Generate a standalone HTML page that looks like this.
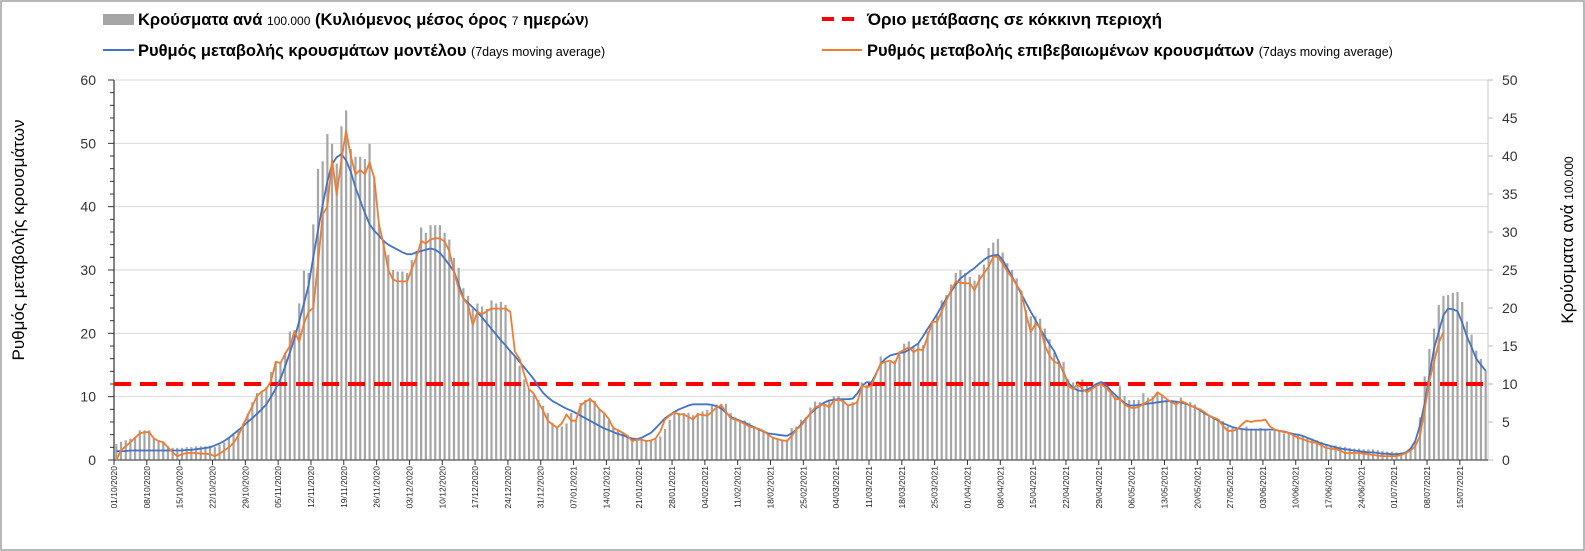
<!DOCTYPE html>
<html><head><meta charset="utf-8"><style>
html,body{margin:0;padding:0;background:#fff;}
svg{display:block;font-family:"Liberation Sans",sans-serif;}
</style></head><body>
<svg id="chart" width="1585" height="551" viewBox="0 0 1585 551" xmlns="http://www.w3.org/2000/svg">
<rect x="1" y="1" width="1583" height="549" fill="#fff" stroke="#a0a0a0" stroke-width="1.5"/>
<g id="grid"></g>
<g id="bars"></g>
<g id="axes"></g>
<g id="lines"></g>
<g font-weight="bold">
  <rect x="103" y="14" width="31" height="11" fill="#a6a6a6"/>
  <text x="138" y="25" font-size="16.5" fill="#000">Κρούσματα ανά <tspan font-size="12" font-weight="normal">100.000</tspan> (Κυλιόμενος μέσος όρος <tspan font-size="12" font-weight="normal">7</tspan> ημερών<tspan font-size="12">)</tspan></text>
  <line x1="103" y1="50" x2="134" y2="50" stroke="#4472c4" stroke-width="2"/>
  <text x="138" y="56" font-size="16.5" fill="#000">Ρυθμός μεταβολής κρουσμάτων μοντέλου <tspan font-size="12.5" font-weight="normal">(7days moving average)</tspan></text>
  <line x1="822" y1="19" x2="862" y2="19" stroke="#ff0000" stroke-width="4" stroke-dasharray="12,8"/>
  <text x="867" y="25" font-size="17" fill="#000">Όριο μετάβασης σε κόκκινη περιοχή</text>
  <line x1="822" y1="50" x2="862" y2="50" stroke="#ed7d31" stroke-width="2"/>
  <text x="867" y="56" font-size="16.5" fill="#000">Ρυθμός μεταβολής επιβεβαιωμένων κρουσμάτων <tspan font-size="12.5" font-weight="normal">(7days moving average)</tspan></text>
</g>
<text transform="translate(24,240) rotate(-90)" text-anchor="middle" font-size="17" fill="#000">Ρυθμός μεταβολής κρουσμάτων</text>
<text transform="translate(1573,240) rotate(-90)" text-anchor="middle" font-size="17" fill="#000">Κρούσματα ανά <tspan font-size="12">100.000</tspan></text>
</svg>
<script>
const leftTicks=[0,10,20,30,40,50,60];
const rightTicks=[0,5,10,15,20,25,30,35,40,45,50];
const dateLabels=["01/10/2020","08/10/2020","15/10/2020","22/10/2020","29/10/2020","05/11/2020","12/11/2020","19/11/2020","26/11/2020","03/12/2020","10/12/2020","17/12/2020","24/12/2020","31/12/2020","07/01/2021","14/01/2021","21/01/2021","28/01/2021","04/02/2021","11/02/2021","18/02/2021","25/02/2021","04/03/2021","11/03/2021","18/03/2021","25/03/2021","01/04/2021","08/04/2021","15/04/2021","22/04/2021","29/04/2021","06/05/2021","13/05/2021","20/05/2021","27/05/2021","03/06/2021","10/06/2021","17/06/2021","24/06/2021","01/07/2021","08/07/2021","15/07/2021"];
const thresholdRight=10;
const cases=[2.1,2.4,2.6,2.8,2.9,3.9,3.9, 3.9,2.8,2.6,2.4,1.8,1.6,1.6, 1.6,1.7,1.7,1.8,1.8,1.8,1.9, 1.7,2.0,2.3,2.9,3.3,3.8,4.8,
6.1,7.6,8.8,9.1,9.6,11.6,12.9, 12.9,14.1,16.9,17.1,20.6,24.9,24.6, 31.0,38.3,39.3,42.9,41.6,39.0,43.9, 46.0,40.9,39.9,39.9,39.6,41.6,37.3,
31.0,28.9,27.0,25.0,24.8,24.8,24.6, 26.3,27.5,30.6,29.9,30.9,30.9,30.9, 29.9,29.0,26.6,25.3,22.6,21.6,19.9, 20.6,20.2,19.9,21.0,20.6,20.8,20.4,
14.4,13.7,12.4,10.6,9.3,8.6,7.9, 7.1,6.2,4.9,4.4,4.4,4.8,6.2, 5.3,7.5,7.9,8.2,7.8,6.6,6.2, 5.2,4.4,3.9,3.6,3.3,2.8,2.6,
2.6,2.6,2.6,2.7,3.1,4.1,5.3, 6.4,6.2,6.2,6.2,5.9,6.2,6.4, 6.6,7.1,7.3,7.4,7.4,6.2,5.6, 5.3,5.2,4.9,4.4,4.2,3.8,3.5,
3.0,2.7,2.6,2.7,4.2,4.4,5.3, 5.6,6.9,7.7,7.6,7.4,7.9,8.4, 8.4,7.9,7.3,7.6,7.8,10.2,9.9, 10.1,10.2,13.6,12.9,12.9,13.1,13.9,
15.3,15.6,14.8,15.3,15.1,16.9,18.2, 19.0,21.0,21.7,23.1,24.6,25.0,24.6, 24.1,23.6,24.4,25.7,27.9,28.6,29.1, 27.3,25.9,25.0,23.9,22.3,19.7,18.9,
18.9,18.6,17.3,15.9,14.1,13.0,12.9, 10.6,10.2,10.4,10.6,9.9,9.3,9.6, 9.9,10.3,9.2,8.4,9.7,8.4,7.9, 7.9,7.9,8.8,8.2,8.4,8.8,8.6,
7.9,7.7,7.6,8.2,7.6,7.6,7.3, 6.8,6.3,5.7,5.6,5.3,5.1,4.4, 4.2,4.0,4.2,4.4,4.0,4.0,4.2, 4.0,3.8,4.0,3.8,3.5,3.5,3.5,
3.3,3.1,2.9,2.8,2.6,2.4,2.1, 1.9,1.9,1.8,1.7,1.6,1.5,1.5, 1.4,1.4,1.4,1.3,1.2,1.1,1.1, 1.0,1.0,1.1,1.3,2.4,5.6,11.0,
14.6,17.3,20.4,21.6,21.7,22.0,22.1, 20.8,18.2,16.5,14.4,13.3,11.8];
const modelRate=[1.4,1.4,1.4,1.5,1.5,1.5,1.5,1.5,1.5,1.5,1.5,1.5,1.5,1.5, 1.5,1.6,1.6,1.7,1.8,1.9,2.0, 2.3,2.6,3.0,3.5,4.1,4.7,5.3,
6.0,6.6,7.3,8.0,8.8,10.0,11.3, 12.8,14.8,17.0,19.2,21.9,24.7,27.6, 32,36.3,40.3,44,46.7,47.8,48.3, 47.3,45.5,43,41,39,37.2,36.2,
35.4,34.6,34.0,33.6,33.2,32.8,32.5, 32.5,32.8,33.0,33.2,33.4,33.2,32.7, 31.8,30.8,29.8,27.7,25.5,24.8,24.1, 23.4,22.5,21.6,20.7,19.8,18.9,18.1,
17.2,16.4,15.5,14.6,13.7,12.8,11.6, 10.6,9.9,9.3,8.9,8.5,8.1,7.8, 7.4,7.0,6.6,6.2,5.8,5.4,5.0, 4.7,4.4,4.1,3.9,3.6,3.4,3.3,
3.5,3.9,4.3,5.0,5.8,6.6,7.1, 7.6,8.0,8.3,8.6,8.8,8.8,8.8, 8.8,8.7,8.5,8.1,7.5,6.8,6.5, 6.2,5.9,5.5,5.2,4.8,4.5,4.2,
4.1,4.0,3.9,3.8,4.2,4.8,5.6, 6.5,7.3,8.0,8.6,9.1,9.4,9.5, 9.6,9.6,9.6,9.7,10.5,11.7,12.3, 12.2,13.6,15.2,16.0,16.5,16.7,16.9,
17.0,17.4,17.9,18.4,19.5,20.7,21.8, 23.0,24.3,25.5,26.6,27.7,28.7,29.2, 29.8,30.3,31.0,31.6,32.1,32.3,32.4, 31.6,30.3,29.0,27.6,26.2,24.8,23.4,
22.1,20.7,19.5,18.3,17.2,15.5,13.8, 12.2,11.4,11.0,10.9,11.1,11.5,12.0, 12.3,11.9,11.0,10.3,9.6,9.0,8.6, 8.6,8.7,8.8,8.9,9.0,9.1,9.2,
9.3,9.3,9.2,9.1,8.9,8.6,8.3, 7.9,7.4,7.0,6.6,6.2,5.8,5.5, 5.2,5.0,4.9,4.8,4.8,4.8,4.8, 4.8,4.8,4.8,4.6,4.5,4.3,4.1,
4.0,3.8,3.5,3.2,2.9,2.6,2.4, 2.2,2.0,1.8,1.7,1.6,1.5,1.4, 1.3,1.2,1.2,1.1,1.0,1.0,0.9, 0.9,1.0,1.2,1.8,3.0,5.5,9.0,
13.4,17.6,20.3,22.9,23.9,23.8,23.5, 21.7,19.5,17.8,16.0,15.0,14.1];
const confirmedRate=[0,1.5,2.2,2.8,3.5,4.2,4.4, 4.4,3.4,3.0,2.8,2.0,1.2,0.6, 0.9,1.1,1.1,1.1,1.0,1.0,0.9, 0.6,1.0,1.5,2.0,2.7,3.8,5.5,
7.0,8.5,10.1,10.8,11.2,12.5,15.5, 15.3,16.8,18.0,20.3,18.7,21.5,23.4, 24,31,38.8,40,47.3,41.9,47.3, 52,48,45.1,45.8,45.1,47,44.5,
37.2,34,30,28.5,28.2,28.2,28.2, 30.2,32,34.6,34.2,34.8,35,35, 34.5,33,29.8,27,25.5,24.5,21.3, 23.4,23,23.5,23.9,23.9,23.9,23.9,
23.4,17.1,16,13.5,11.2,10.5,9.1, 7.8,6.2,5.6,5.1,5.8,7.2,6.2, 6.2,8.6,9.2,9.6,9.0,8.0,7.4, 6.5,5.0,4.7,4.3,3.8,3.0,3.2,
3.2,3.0,3.1,3.4,4.5,6.4,7.0, 7.5,7.2,7.2,6.8,6.4,7.2,7.1, 7.0,7.6,8.3,8.6,7.6,6.6,6.4, 6.1,5.7,5.3,5.1,4.9,4.6,4.0,
3.5,3.3,3.1,3.0,3.8,4.8,5.4, 6.4,7.3,8.3,8.6,8.8,8.3,9.4, 9.5,9.3,8.6,8.8,9.1,11.7,11.5, 11.7,13.5,15.2,15.5,15.7,15.2,17.0,
17.4,17.8,17.0,17.5,17.3,19.5,21.8, 21.8,23.5,25.2,26.8,28.2,28.0,27.9, 27.9,26.8,28.4,29.5,30.5,32.1,32.1, 31,29.8,28.8,27.6,26.5,23,20.2,
21.5,21,18.1,16.5,15.5,15.2,14.0, 11.7,11.2,12.0,11.2,10.7,11.2,11.7, 12.0,11.4,10.7,9.6,9.6,8.8,8.3, 8.2,8.4,8.8,9.3,9.6,10.7,10.2,
9.6,9.1,8.8,9.3,9.0,8.6,8.3, 8.0,7.6,7.0,6.7,6.4,5.4,4.6, 4.6,4.8,5.6,6.2,6.0,6.2,6.2, 6.4,5.3,4.8,4.6,4.4,4.3,3.9,
3.5,3.3,3.0,2.8,2.7,2.3,1.9, 1.8,1.7,1.5,1.1,1.1,1.1,1.1, 1.0,0.9,0.8,0.7,0.6,0.6,0.6, 0.6,0.8,1.1,1.5,2.2,3.8,8.0,
12.5,15.5,18.5,20.2];

const NS="http://www.w3.org/2000/svg";
const X0=114, X1=1488, Y0=460, YT=80, NDAYS=293;
const dayW=(X1-X0)/NDAYS;
const xDay=d=>X0+dayW*(d+0.5);
const xTick=d=>X0+dayW*d;
const yL=v=>Y0-(v/60)*(Y0-YT);
const yR=v=>Y0-(v/50)*(Y0-YT);
function mk(tag,attrs,parent){const e=document.createElementNS(NS,tag);for(const k in attrs)e.setAttribute(k,attrs[k]);parent.appendChild(e);return e;}
const grid=document.getElementById('grid'),bars=document.getElementById('bars'),axes=document.getElementById('axes'),lines=document.getElementById('lines');

leftTicks.forEach(v=>{
  if(v>0){const g=mk('line',{x1:X0,x2:X1,y1:yL(v),y2:yL(v),stroke:'#d9d9d9','stroke-width':1},grid);
  
  }
  const t=mk('text',{x:96,y:yL(v)+5,'text-anchor':'end','font-size':14,fill:'#333'},axes);
  t.textContent=v;
  
  
  mk('line',{x1:X0-6,x2:X0,y1:yL(v),y2:yL(v),stroke:'#333','stroke-width':1},axes);
});
for(let v=2;v<60;v+=2){ if(v%10) mk('line',{x1:X0-4,x2:X0,y1:yL(v),y2:yL(v),stroke:'#333','stroke-width':1},axes); }
rightTicks.forEach(v=>{
  const t=mk('text',{x:1502,y:yR(v)+5,'font-size':14,fill:'#333'},axes);
  t.textContent=v;
  
  
  mk('line',{x1:X1,x2:X1+5,y1:yR(v),y2:yR(v),stroke:'#bbb','stroke-width':1},axes);
});
mk('line',{x1:X1,x2:X1,y1:YT,y2:Y0,stroke:'#c8c8c8','stroke-width':1},axes);

cases.forEach((v,d)=>{
  const r=mk('rect',{x:xDay(d)-1.1,y:yR(v),width:2.2,height:Y0-yR(v),fill:'#a6a6a6'},bars);
  
  
});

const axL=mk('line',{x1:X0,x2:X0,y1:YT,y2:Y0,stroke:'#333','stroke-width':1.2},axes);


const axB=mk('line',{x1:X0,x2:X1,y1:Y0,y2:Y0,stroke:'#555','stroke-width':1.2},axes);


dateLabels.forEach((s,i)=>{
  const x=xTick(i*7);
  mk('line',{x1:x,x2:x,y1:Y0,y2:Y0+5,stroke:'#333','stroke-width':1},axes);
  const t=mk('text',{transform:`translate(${x+3},${Y0+6}) rotate(-90)`,'text-anchor':'end','font-size':8.5,fill:'#222'},axes);
  t.textContent=s;
  
  
});

const th=mk('line',{x1:X0,x2:X1,y1:yR(thresholdRight),y2:yR(thresholdRight),stroke:'#ff0000','stroke-width':4,'stroke-dasharray':'17,9'},lines);


const pts=arr=>arr.map((v,d)=>xDay(d).toFixed(1)+','+yL(v).toFixed(1)).join(' ');
const bl=mk('polyline',{points:pts(modelRate),fill:'none',stroke:'#4472c4','stroke-width':1.8,'stroke-linejoin':'round'},lines);


const ol=mk('polyline',{points:pts(confirmedRate),fill:'none',stroke:'#ed7d31','stroke-width':1.8,'stroke-linejoin':'round'},lines);


</script>
</body></html>
